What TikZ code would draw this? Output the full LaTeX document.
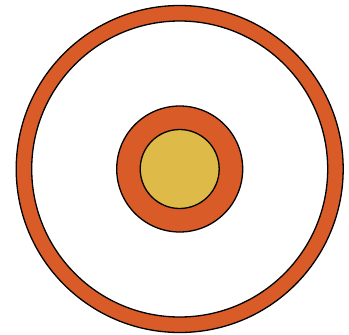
\documentclass[tikz,border=0pt]{standalone}
\definecolor{ringorange}{RGB}{217,92,40}
\definecolor{coreyellow}{RGB}{222,186,72}
\begin{document}
\begin{tikzpicture}[x=1pt,y=-1pt,
  disc/.style={draw=black,line width=1.3pt}]
\useasboundingbox (0,0) rectangle (349,335);
\fill[white] (0,0) rectangle (349,335);
\coordinate (c) at (179.7,169);
\path[disc,fill=ringorange] (c) circle[radius=163.5];
\path[disc,fill=white] (c) circle[radius=148];
\path[disc,fill=ringorange] (c) circle[radius=63];
\path[disc,fill=coreyellow] (c) circle[radius=39.5];
\end{tikzpicture}
\end{document}
